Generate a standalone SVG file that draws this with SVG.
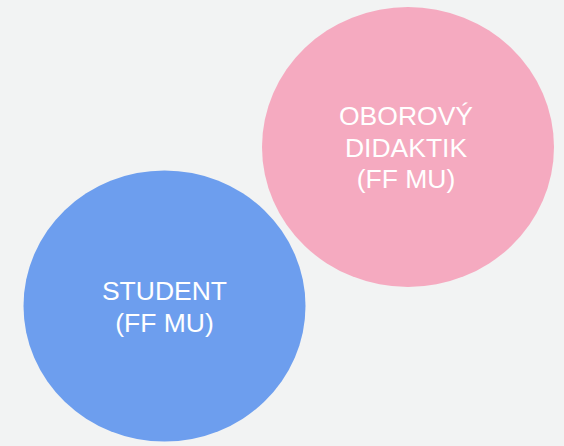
<svg xmlns="http://www.w3.org/2000/svg" width="564" height="446" viewBox="0 0 564 446">
<style>
.lbl{font-family:"Liberation Sans",Arial,sans-serif;font-size:26.5px;fill:#ffffff;text-anchor:middle}
</style>
<rect width="564" height="446" fill="#f2f3f3"/>
<g id="connectors"></g>
<g id="didaktik">
<ellipse cx="408" cy="147" rx="146" ry="140" fill="#f5aac0"/>
<text class="lbl" x="406" y="125">OBOROVÝ</text>
<text class="lbl" x="406" y="157">DIDAKTIK</text>
<text class="lbl" x="406" y="188">(FF MU)</text>
</g>
<g id="student">
<ellipse cx="164.5" cy="306" rx="141" ry="135.5" fill="#6d9eee"/>
<text class="lbl" x="164.5" y="300">STUDENT</text>
<text class="lbl" x="164.5" y="332">(FF MU)</text>
</g>
</svg>
